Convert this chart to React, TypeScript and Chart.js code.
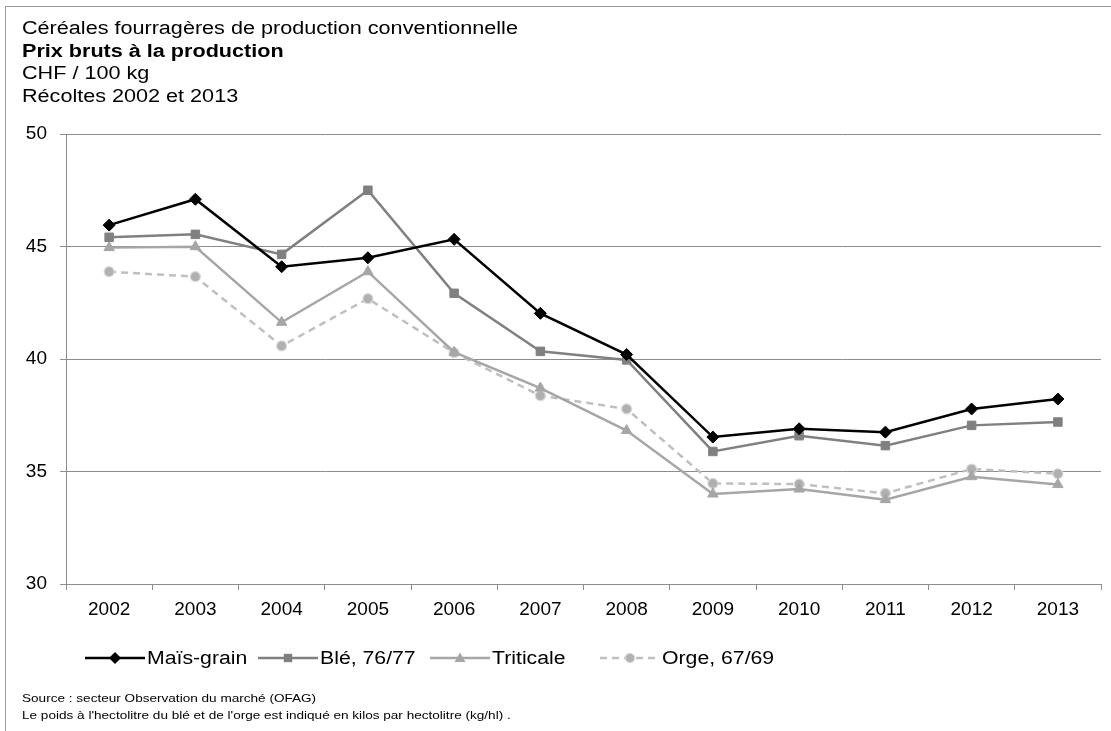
import React, { useEffect, useRef } from "react";
import { Chart, registerables } from "chart.js";

Chart.register(...registerables);

// ---- data ----
const years = ["2002", "2003", "2004", "2005", "2006", "2007", "2008", "2009", "2010", "2011", "2012", "2013"];
const maisGrain = [45.95, 47.1, 44.1, 44.5, 45.32, 42.03, 40.2, 36.53, 36.9, 36.75, 37.78, 38.22];
const ble = [45.41, 45.54, 44.65, 47.5, 42.92, 40.34, 39.96, 35.89, 36.59, 36.15, 37.05, 37.2];
const triticale = [44.95, 44.99, 41.63, 43.88, 40.3, 38.71, 36.82, 34.0, 34.22, 33.75, 34.77, 34.42];
const orge = [43.88, 43.66, 40.58, 42.68, 40.28, 38.37, 37.78, 34.47, 34.44, 34.03, 35.11, 34.9];
const yMin = 30;
const yMax = 50;
const yStep = 5;

const titleLines = [
  { text: "Céréales fourragères de production conventionnelle", bold: false },
  { text: "Prix bruts à la production", bold: true },
  { text: "CHF / 100 kg", bold: false },
  { text: "Récoltes 2002 et 2013", bold: false },
];
const legendLabels = ["Maïs-grain", "Blé, 76/77", "Triticale", "Orge, 67/69"];
const footerLines = [
  "Source : secteur Observation du marché (OFAG)",
  "Le poids à l'hectolitre du blé et de l'orge est indiqué en kilos par hectolitre (kg/hl) .",
];

const FONT = "'Liberation Sans', Arial, sans-serif";
const S = 1.18; // horizontal stretch of the original text
const GRID = "#8c8c8c";

const styles = [
  { color: "#000000", point: "rectRot", radius: 6, fill: "#000000", border: "#000000", dash: [] as number[] },
  { color: "#808080", point: "rect", radius: 6, fill: "#808080", border: "#808080", dash: [] as number[] },
  { color: "#a6a6a6", point: "triangle", radius: 6, fill: "#a6a6a6", border: "#a6a6a6", dash: [] as number[] },
  { color: "#bfbfbf", point: "circle", radius: 5, fill: "#b0b0b0", border: "#d9d9d9", dash: [7, 5] },
];

function LegendSymbol({ i }: { i: number }) {
  const st = styles[i];
  const cx = 30;
  const cy = 10;
  let marker: React.ReactNode = null;
  if (st.point === "rectRot") {
    marker = <polygon points={`${cx},${cy - 6} ${cx + 6},${cy} ${cx},${cy + 6} ${cx - 6},${cy}`} fill={st.fill} />;
  } else if (st.point === "rect") {
    marker = <rect x={cx - 4.2} y={cy - 4.2} width={8.4} height={8.4} fill={st.fill} />;
  } else if (st.point === "triangle") {
    marker = <polygon points={`${cx},${cy - 5.5} ${cx + 5.5},${cy + 4} ${cx - 5.5},${cy + 4}`} fill={st.fill} />;
  } else {
    marker = <circle cx={cx} cy={cy} r={4.6} fill={st.fill} stroke={st.border} strokeWidth={1.2} />;
  }
  return (
    <svg width={60} height={20} style={{ display: "block" }}>
      <line
        x1={0}
        y1={cy}
        x2={60}
        y2={cy}
        stroke={st.color}
        strokeWidth={2.5}
        strokeDasharray={st.dash.length ? st.dash.join(" ") : undefined}
      />
      {marker}
    </svg>
  );
}

export default function App() {
  const canvasRef = useRef<HTMLCanvasElement | null>(null);

  useEffect(() => {
    const canvas = canvasRef.current;
    if (!canvas) return;
    const series = [maisGrain, ble, triticale, orge];
    const chart = new Chart(canvas, {
      type: "line",
      data: {
        labels: years,
        datasets: series.map((d, i) => ({
          label: legendLabels[i],
          data: d,
          borderColor: styles[i].color,
          backgroundColor: styles[i].fill,
          borderWidth: 2.5,
          borderDash: styles[i].dash,
          pointStyle: styles[i].point as any,
          pointRadius: styles[i].radius,
          pointHoverRadius: styles[i].radius,
          pointBackgroundColor: styles[i].fill,
          pointBorderColor: styles[i].border,
          pointBorderWidth: i === 3 ? 1.2 : 1,
          tension: 0,
          fill: false,
        })),
      },
      options: {
        responsive: false,
        animation: false,
        devicePixelRatio: 1,
        layout: { padding: { left: 6, top: 134, right: 10, bottom: 107 } },
        plugins: {
          legend: { display: false },
          title: { display: false },
          tooltip: { enabled: false },
        },
        font: { family: FONT },
        scales: {
          x: {
            type: "category",
            offset: true,
            grid: {
              display: true,
              drawOnChartArea: false,
              drawTicks: true,
              tickLength: 6,
              color: GRID,
              offset: true,
            },
            border: { display: true, color: GRID, width: 1 },
            ticks: {
              color: "#000",
              font: { family: FONT, size: 19 },
              padding: 8,
              maxRotation: 0,
              autoSkip: false,
            },
            afterFit: (scale: any) => {
              scale.height = 40;
            },
          },
          y: {
            min: yMin,
            max: yMax,
            grid: {
              display: true,
              drawOnChartArea: true,
              drawTicks: true,
              tickLength: 6,
              color: GRID,
            },
            border: { display: true, color: GRID, width: 1 },
            ticks: {
              stepSize: yStep,
              color: "#000",
              font: { family: FONT, size: 19 },
              padding: 13,
            },
            afterFit: (scale: any) => {
              scale.width = 60;
            },
          },
        },
      } as any,
    });
    return () => chart.destroy();
  }, []);

  const legendX = [85, 258, 430, 600];

  return (
    <div
      style={{
        position: "absolute",
        left: 0,
        top: 0,
        width: 1111,
        height: 731,
        overflow: "hidden",
        background: "#fff",
        fontFamily: FONT,
        color: "#000",
      }}
    >
      <canvas
        ref={canvasRef}
        width={1111}
        height={731}
        style={{ position: "absolute", left: 0, top: 0, width: 1111, height: 731 }}
      />
      <div
        style={{
          position: "absolute",
          left: 5,
          top: 6,
          width: 1200,
          height: 800,
          borderLeft: "1px solid #9a9a9a",
          borderTop: "1px solid #9a9a9a",
          pointerEvents: "none",
        }}
      />
      <div style={{ position: "absolute", left: 22, top: 17 }}>
        {titleLines.map((l, i) => (
          <div
            key={i}
            style={{
              fontSize: 18,
              lineHeight: "22.5px",
              fontWeight: l.bold ? "bold" : "normal",
              whiteSpace: "nowrap",
              transform: "scaleX(1.2)",
              transformOrigin: "0 0",
            }}
          >
            {l.text}
          </div>
        ))}
      </div>
      {legendLabels.map((lab, i) => (
        <div
          key={lab}
          style={{
            position: "absolute",
            left: legendX[i],
            top: 647,
            height: 22,
            display: "flex",
            alignItems: "center",
            whiteSpace: "nowrap",
          }}
        >
          <LegendSymbol i={i} />
          <span
            style={{
              display: "inline-block",
              marginLeft: 2,
              fontSize: 18,
              lineHeight: "22px",
              transform: `scaleX(${S})`,
              transformOrigin: "0 50%",
            }}
          >
            {lab}
          </span>
        </div>
      ))}
      <div style={{ position: "absolute", left: 22, top: 690 }}>
        {footerLines.map((t, i) => (
          <div
            key={i}
            style={{
              fontSize: 11.5,
              lineHeight: "17px",
              whiteSpace: "nowrap",
              transform: `scaleX(${S})`,
              transformOrigin: "0 0",
            }}
          >
            {t}
          </div>
        ))}
      </div>
    </div>
  );
}
